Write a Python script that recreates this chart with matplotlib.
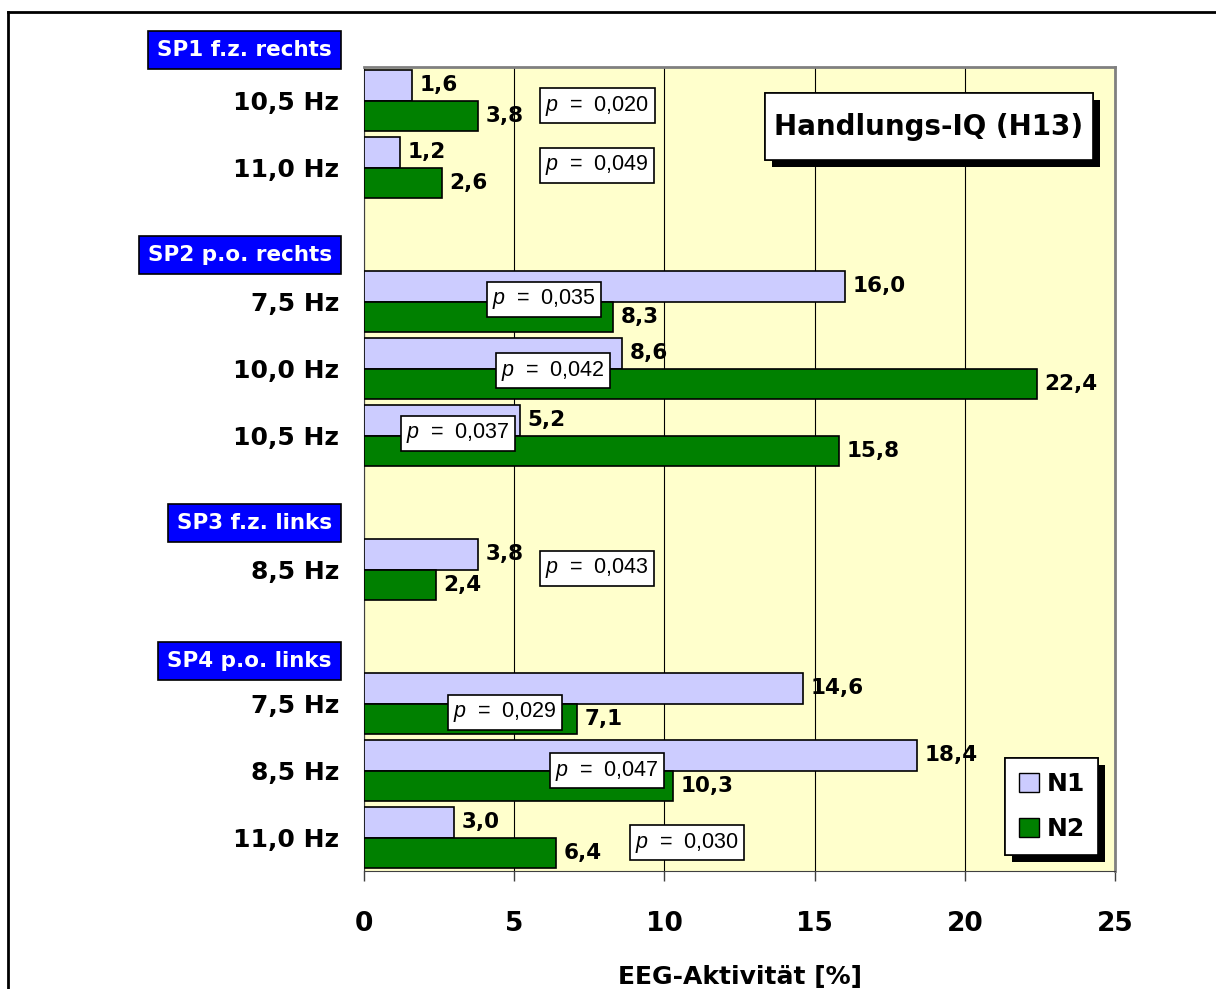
import numpy as np
import matplotlib as mpl
import matplotlib.pyplot as plt
import matplotlib.patheffects as pe
from matplotlib.patches import Patch, Rectangle
from matplotlib.lines import Line2D

plt.rcParams['font.family'] = ['DejaVu Sans']
plt.rcParams['mathtext.fontset'] = 'custom'
plt.rcParams['mathtext.it'] = 'Liberation Sans:italic'
plt.rcParams['mathtext.rm'] = 'Liberation Sans'

# data
freq_labels = ["10,5 Hz", "11,0 Hz", "7,5 Hz", "10,0 Hz", "10,5 Hz",
               "8,5 Hz", "7,5 Hz", "8,5 Hz", "11,0 Hz"]
slots = [0, 1, 3, 4, 5, 7, 9, 10, 11]          # empty slots hold the group labels
n1 = [1.6, 1.2, 16.0, 8.6, 5.2, 3.8, 14.6, 18.4, 3.0]
n2 = [3.8, 2.6, 8.3, 22.4, 15.8, 2.4, 7.1, 10.3, 6.4]
p_values = ["0,020", "0,049", "0,035", "0,042", "0,037", "0,043", "0,029", "0,047", "0,030"]
p_x = [5.93, 5.93, 4.16, 4.46, 1.30, 5.93, 2.86, 6.26, 8.92]
p_dy = [0.08, -0.03, -0.03, 0.03, -0.03, -0.02, 0.13, 0.0, 0.08]
groups = ["SP1 f.z. rechts", "SP2 p.o. rechts", "SP3 f.z. links", "SP4 p.o. links"]
group_y = [-0.75, 2.31, 6.31, 8.36]

c_n1 = '#CCCCFF'
c_n2 = '#008000'
shadow = [pe.withSimplePatchShadow(offset=(5, -5), shadow_rgbFace='black', alpha=1.0), pe.Normal()]

fig = plt.figure(figsize=(12.16, 9.89), dpi=100)
ax = fig.add_axes([364/1216, 118/989, 751/1216, 804/989])
ax.set_facecolor('#FFFFCC')

y = np.array(slots, dtype=float)
h = 0.45
ax.barh(y - h/2, n1, height=h, color=c_n1, edgecolor='black', lw=1.2, zorder=3)
ax.barh(y + h/2, n2, height=h, color=c_n2, edgecolor='black', lw=1.2, zorder=3)

for yi, a, b in zip(y, n1, n2):
    ax.text(a + 0.25, yi - h/2, f"{a:.1f}".replace('.', ','), va='center', ha='left',
            fontsize=15.5, fontweight='bold', zorder=5)
    ax.text(b + 0.25, yi + h/2, f"{b:.1f}".replace('.', ','), va='center', ha='left',
            fontsize=15.5, fontweight='bold', zorder=5)

for yi, px, pv, dy in zip(y, p_x, p_values, p_dy):
    ax.text(px + 0.1, yi + dy, r"$p$  =  " + pv, va='center', ha='left', fontsize=15.5,
            family='Liberation Sans', zorder=6,
            bbox=dict(boxstyle='square,pad=0.25', fc='white', ec='black', lw=1.2))

trans = mpl.transforms.blended_transform_factory(ax.transAxes, ax.transData)
for g, gy in zip(groups, group_y):
    ax.text(-0.043, gy, g, transform=trans, ha='right', va='center', color='white',
            fontsize=15.5, fontweight='bold', clip_on=False,
            bbox=dict(boxstyle='square,pad=0.42', fc='#0000FF', ec='black', lw=1.2))

ax.set_xlim(0, 25)
ax.set_ylim(11.5, -0.5)
ax.set_xticks([0, 5, 10, 15, 20, 25])
ax.set_xticklabels(["0", "5", "10", "15", "20", "25"], fontsize=19, fontweight='bold')
ax.tick_params(axis='x', direction='out', length=7, pad=22, width=1, color='#404040')
ax.set_yticks(slots)
ax.set_yticklabels(freq_labels, fontsize=18, fontweight='bold')
ax.tick_params(axis='y', length=0, pad=18)
ax.grid(axis='x', color='black', lw=0.8, zorder=0)
ax.set_axisbelow(True)
for s in ['top', 'right']:
    ax.spines[s].set_color('#808080')
    ax.spines[s].set_linewidth(2)
ax.spines['left'].set_color('#404040')
ax.spines['bottom'].set_color('#404040')
ax.set_xlabel("EEG-Aktivität [%]", fontsize=18, fontweight='bold', labelpad=20)

# title box
box = Rectangle((0.534, 0.8843), 0.9707 - 0.534, 0.9677 - 0.8843, transform=ax.transAxes,
                fc='white', ec='black', lw=1.2, zorder=7)
box.set_path_effects(shadow)
ax.add_patch(box)
ax.text(0.7523, 0.9254, "Handlungs-IQ (H13)", transform=ax.transAxes, ha='center', va='center',
        fontsize=20, fontweight='bold', zorder=8)

handles = [Patch(facecolor=c_n1, edgecolor='black', label='N1'),
           Patch(facecolor=c_n2, edgecolor='black', label='N2')]
leg = ax.legend(handles=handles, loc='lower right', bbox_to_anchor=(0.978, 0.02),
                prop={'weight': 'bold', 'size': 18}, frameon=True, fancybox=False,
                facecolor='white', framealpha=1.0,
                edgecolor='black', handlelength=0.8, handleheight=0.8, handletextpad=0.3,
                borderpad=0.55, labelspacing=0.85, borderaxespad=0)
leg.get_frame().set_linewidth(1.2)
leg.get_frame().set_path_effects(shadow)
leg.set_zorder(9)

# outer frame
fig.add_artist(Line2D([8/1216, 8/1216], [0, 1 - 12/989], color='black', lw=2))
fig.add_artist(Line2D([8/1216, 1], [1 - 12/989, 1 - 12/989], color='black', lw=2))

fig.savefig("out.png", dpi=100)
